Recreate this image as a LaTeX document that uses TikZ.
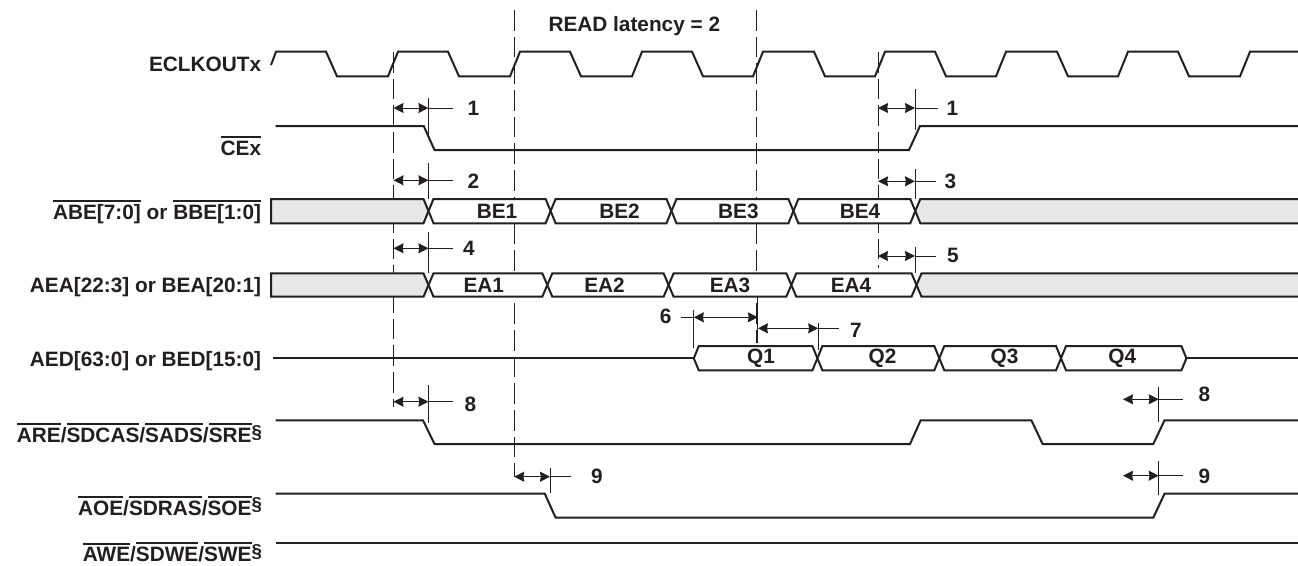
\documentclass[tikz,border=0pt]{standalone}
\usepackage{fontspec}
\setmainfont{Liberation Sans}
\usetikzlibrary{arrows.meta}
\definecolor{inkc}{RGB}{35,31,32}
\definecolor{busgray}{RGB}{230,231,232}
\newcommand{\ovl}[1]{\leavevmode\vbox{\hrule height 1.6pt\kern 1.9pt\hbox{#1}}}
\newcommand{\secm}{\raisebox{3.2pt}{\fontsize{14}{14}\selectfont §}}
\tikzset{every picture/.style={line width=0.75pt},
  wave/.style={color=inkc,line width=1.5pt,line join=miter},
  bus/.style={color=inkc,fill=white,line width=1.5pt,line join=miter},
  guide/.style={color=inkc,line width=0.65pt,dash pattern=on 15.5pt off 4.5pt},
  tick/.style={color=inkc,line width=0.65pt},
  span/.style={color=inkc,line width=0.75pt,{Stealth[length=7.5pt,width=7.5pt,inset=0.6pt]}-{Stealth[length=7.5pt,width=7.5pt,inset=0.6pt]}},
  lead/.style={color=inkc,line width=0.75pt},
  sig/.style={color=inkc,anchor=base east,inner sep=0pt,font=\fontsize{15.6}{18}\bfseries},
  txt/.style={color=inkc,inner sep=0pt,font=\fontsize{15.6}{18}\bfseries}}

\begin{document}
\begin{tikzpicture}[x=0.75pt,y=0.75pt,yscale=-1,xscale=1]
\useasboundingbox (0,0) rectangle (1298,565);

%Straight Lines: guides
\draw [guide] (393.5,52) -- (393.5,407) ;
\draw [guide] (514.2,10) -- (514.2,477) ;
\draw [guide] (756.8,10) -- (756.8,343) ;
\draw [guide] (878,52) -- (878,268) ;

%Shape: gray bus fill
\draw [bus,fill=busgray] (271,199) -- (423.5,199) -- (428.5,211) -- (423.5,223.3) -- (271,223.3) -- cycle ;
\draw [bus,fill=busgray] (1298,199) -- (920.3,199) -- (915.3,211) -- (920.3,223.3) -- (1298,223.3) ;
\draw [bus,fill=busgray] (271,273.3) -- (423.5,273.3) -- (428.5,285) -- (423.5,296.7) -- (271,296.7) -- cycle ;
\draw [bus,fill=busgray] (1298,273.3) -- (921.5,273.3) -- (916.5,285) -- (921.5,296.7) -- (1298,296.7) ;

%Straight Lines: clock
\draw [wave] (271,65) -- (276,51.7) -- (326,51.7) -- (337,76.3) -- (388,76.3) -- (398,51.7) -- (448,51.7) -- (459,76.3) -- (510,76.3) -- (520,51.7) -- (570,51.7) -- (581,76.3) -- (632,76.3) -- (642,51.7) -- (692,51.7) -- (703,76.3) -- (753,76.3) -- (763,51.7) -- (814,51.7) -- (825,76.3) -- (875,76.3) -- (885,51.7) -- (935,51.7) -- (946,76.3) -- (996,76.3) -- (1006,51.7) -- (1057,51.7) -- (1068,76.3) -- (1118,76.3) -- (1128,51.7) -- (1178,51.7) -- (1189,76.3) -- (1240,76.3) -- (1250,51.7) -- (1298,51.7) ;
%Straight Lines: strobes
\draw [wave] (275.7,126) -- (423.7,126) -- (434.5,150) -- (909,150) -- (920,126) -- (1298,126) ;
\draw [wave] (272.8,358.3) -- (693.8,358.3) ;
\draw [wave] (1186.4,358.3) -- (1298,358.3) ;
\draw [wave] (275.7,420.3) -- (423,420.3) -- (434.5,444) -- (910,444) -- (920.7,420.3) -- (1031.4,420.3) -- (1042.6,444) -- (1153.3,444) -- (1164.5,420.3) -- (1298,420.3) ;
\draw [wave] (275.7,493.7) -- (544.8,493.7) -- (555.6,517.7) -- (1153.3,517.7) -- (1164.5,493.7) -- (1298,493.7) ;
\draw [wave] (275.7,543.3) -- (1298,543.3) ;

%Shape: BE bus
\draw [bus] (428.5,211) -- (433.5,199) -- (545.6,199) -- (550.6,211) -- (545.6,223.3) -- (433.5,223.3) -- cycle ;
\draw [bus] (550.6,211) -- (555.6,199) -- (666.5,199) -- (671.5,211) -- (666.5,223.3) -- (555.6,223.3) -- cycle ;
\draw [bus] (671.5,211) -- (676.5,199) -- (788.4,199) -- (793.4,211) -- (788.4,223.3) -- (676.5,223.3) -- cycle ;
\draw [bus] (793.4,211) -- (798.4,199) -- (910.3,199) -- (915.3,211) -- (910.3,223.3) -- (798.4,223.3) -- cycle ;
%Shape: EA bus
\draw [bus] (428.5,285) -- (433.5,273.3) -- (542.3,273.3) -- (547.3,285) -- (542.3,296.7) -- (433.5,296.7) -- cycle ;
\draw [bus] (547.3,285) -- (552.3,273.3) -- (663.6,273.3) -- (668.6,285) -- (663.6,296.7) -- (552.3,296.7) -- cycle ;
\draw [bus] (668.6,285) -- (673.6,273.3) -- (786.3,273.3) -- (791.3,285) -- (786.3,296.7) -- (673.6,296.7) -- cycle ;
\draw [bus] (791.3,285) -- (796.3,273.3) -- (911.5,273.3) -- (916.5,285) -- (911.5,296.7) -- (796.3,296.7) -- cycle ;
%Shape: Q bus
\draw [bus] (693.8,358.3) -- (698.8,346) -- (812.4,346) -- (817.4,358.3) -- (812.4,370.3) -- (698.8,370.3) -- cycle ;
\draw [bus] (817.4,358.3) -- (822.4,346) -- (934.3,346) -- (939.3,358.3) -- (934.3,370.3) -- (822.4,370.3) -- cycle ;
\draw [bus] (939.3,358.3) -- (944.3,346) -- (1056,346) -- (1061,358.3) -- (1056,370.3) -- (944.3,370.3) -- cycle ;
\draw [bus] (1061,358.3) -- (1066,346) -- (1181.4,346) -- (1186.4,358.3) -- (1181.4,370.3) -- (1066,370.3) -- cycle ;

%Straight Lines: ticks
\draw [tick] (428.4,98) -- (428.4,136) ;
\draw [tick] (915,89) -- (915,130) ;
\draw [tick] (428.4,163) -- (428.4,199) ;
\draw [tick] (915,169) -- (915,199) ;
\draw [tick] (428.4,232) -- (428.4,273) ;
\draw [tick] (915,247) -- (915,273) ;
\draw [tick] (693.8,310) -- (693.8,348) ;
\draw [tick] (757.9,297) -- (757.9,343) ;
\draw [tick] (818.2,323) -- (818.2,350) ;
\draw [tick] (428.4,385) -- (428.4,423) ;
\draw [tick] (550,468) -- (550,493) ;
\draw [tick] (1158.7,387) -- (1158.7,422) ;
\draw [tick] (1158.7,461) -- (1158.7,495) ;

%Straight Lines: spans and leaders
\draw [span] (393.5,108) -- (428.4,108) ;
\draw [lead] (428.4,108) -- (453,108) ;
\draw [span] (878,108) -- (915,108) ;
\draw [lead] (915,108) -- (938.4,108) ;
\draw [span] (393.5,180.3) -- (428.4,180.3) ;
\draw [lead] (428.4,180.3) -- (453,180.3) ;
\draw [span] (878,181.3) -- (915,181.3) ;
\draw [lead] (915,181.3) -- (936,181.3) ;
\draw [span] (393.5,248.3) -- (428.4,248.3) ;
\draw [lead] (428.4,248.3) -- (453,248.3) ;
\draw [span] (878,256) -- (915,256) ;
\draw [lead] (915,256) -- (936,256) ;
\draw [span] (693.8,317.3) -- (757.9,317.3) ;
\draw [lead] (680.6,317.3) -- (693.8,317.3) ;
\draw [span] (757.9,328.3) -- (818.2,328.3) ;
\draw [lead] (818.2,328.3) -- (839,328.3) ;
\draw [span] (393.5,401.7) -- (428.4,401.7) ;
\draw [lead] (428.4,401.7) -- (453,401.7) ;
\draw [span] (1123,399.3) -- (1158.7,399.3) ;
\draw [lead] (1158.7,399.3) -- (1183,399.3) ;
\draw [span] (514.2,476.7) -- (550,476.7) ;
\draw [lead] (550,476.7) -- (571.3,476.7) ;
\draw [span] (1123,475.7) -- (1158.7,475.7) ;
\draw [lead] (1158.7,475.7) -- (1183,475.7) ;

% Text Node
\node [txt,anchor=west] (latency) at (548,26) {READ latency = 2};
% Text Node
\node [sig] (eclkout) at (261.6,71.7) {ECLKOUTx};
\node [sig] (cex) at (261.6,155) {\ovl{CEx}};
\node [sig] (abe) at (261.6,219.3) {\ovl{ABE[7:0]} or \ovl{BBE[1:0]}};
\node [sig] (aea) at (261.6,292.3) {AEA[22:3] or BEA[20:1]};
\node [sig] (aed) at (261.6,366) {AED[63:0] or BED[15:0]};
\node [sig] (are) at (262.4,442.3) {\ovl{ARE}/\ovl{SDCAS}/\ovl{SADS}/\ovl{SRE}\secm};
\node [sig] (aoe) at (262.4,515) {\ovl{AOE}/\ovl{SDRAS}/\ovl{SOE}\secm};
\node [sig] (awe) at (262.4,561.5) {\ovl{AWE}/\ovl{SDWE}/\ovl{SWE}\secm};
% Text Node
\node [txt] (be1) at (497,211.5) {BE1};
\node [txt] (be2) at (619.5,211.5) {BE2};
\node [txt] (be3) at (738.4,211.5) {BE3};
\node [txt] (be4) at (860,211.5) {BE4};
\node [txt] (ea1) at (483.8,285.5) {EA1};
\node [txt] (ea2) at (604.5,285.5) {EA2};
\node [txt] (ea3) at (730,285.5) {EA3};
\node [txt] (ea4) at (851,285.5) {EA4};
\node [txt] (q1) at (761,358.5) {Q1};
\node [txt] (q2) at (882.6,358.5) {Q2};
\node [txt] (q3) at (1004.5,358.5) {Q3};
\node [txt] (q4) at (1122.3,358.5) {Q4};
% Text Node
\node [txt] (num1a) at (473.5,108) {1};
\node [txt] (num1b) at (952.5,108) {1};
\node [txt] (num2) at (473.5,181.5) {2};
\node [txt] (num3) at (950.4,181.5) {3};
\node [txt] (num4) at (469,248) {4};
\node [txt] (num5) at (953,255) {5};
\node [txt] (num6) at (665.7,316.7) {6};
\node [txt] (num7) at (856,330.7) {7};
\node [txt] (num8a) at (470.5,404) {8};
\node [txt] (num8b) at (1204.5,394.5) {8};
\node [txt] (num9a) at (597,476.7) {9};
\node [txt] (num9b) at (1204.5,476.5) {9};

\end{tikzpicture}
\end{document}
